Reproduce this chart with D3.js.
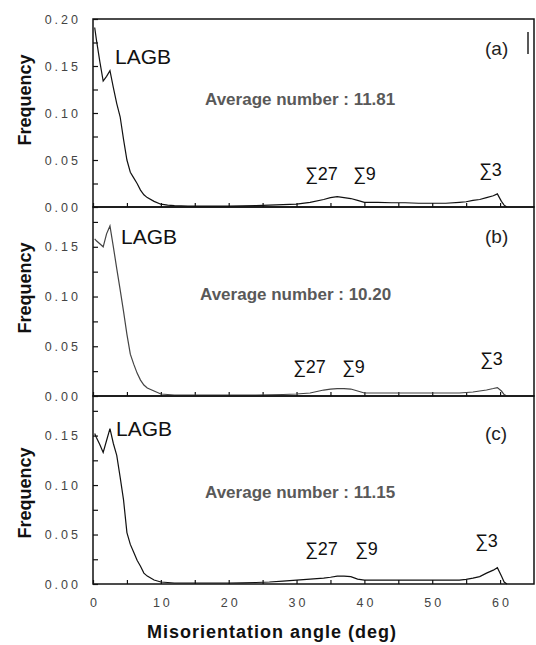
<!DOCTYPE html>
<html><head><meta charset="utf-8">
<script src="https://cdn.jsdelivr.net/npm/d3@7"></script>
<style>body{margin:0;background:#fff}svg{display:block}</style>
</head><body><svg id="c" width="536" height="645"></svg>
<script>
const angles = [0.25,0.5,1,1.5,2,2.5,3,3.5,4,4.5,5,5.5,6,6.5,7,7.5,8,9,10,11,12,14,16,18,20,22,24,26,28,30,32,34,35,36,37,38,39,40,42,44,46,48,50,52,54,55,56,57,58,59,59.6,60.2,60.6,61];
const freqA = [0.191,0.178,0.155,0.134,0.139,0.145,0.127,0.110,0.096,0.072,0.050,0.037,0.031,0.025,0.018,0.013,0.010,0.006,0.003,0.002,0.0015,0.001,0.001,0.001,0.001,0.0012,0.0015,0.002,0.0025,0.003,0.005,0.008,0.010,0.011,0.010,0.009,0.007,0.005,0.005,0.0045,0.0045,0.004,0.004,0.004,0.005,0.0056,0.007,0.008,0.010,0.012,0.014,0.006,0.002,0];
const freqB = [0.158,0.156,0.153,0.150,0.163,0.171,0.150,0.128,0.107,0.085,0.062,0.042,0.032,0.023,0.016,0.011,0.008,0.005,0.002,0.0015,0.001,0.0008,0.0008,0.0008,0.0008,0.0008,0.001,0.0012,0.0015,0.002,0.003,0.006,0.007,0.0075,0.0075,0.007,0.005,0.003,0.003,0.003,0.003,0.003,0.003,0.003,0.003,0.0035,0.004,0.005,0.006,0.0075,0.0085,0.005,0.0015,0];
const freqC = [0.152,0.148,0.141,0.133,0.145,0.157,0.142,0.130,0.108,0.085,0.052,0.040,0.032,0.024,0.018,0.011,0.008,0.004,0.002,0.0015,0.001,0.001,0.001,0.001,0.001,0.0012,0.0015,0.002,0.003,0.004,0.005,0.006,0.0068,0.008,0.008,0.0075,0.005,0.004,0.004,0.004,0.004,0.004,0.004,0.004,0.004,0.0047,0.006,0.0075,0.011,0.014,0.0165,0.008,0.002,0];
const panelLabels = ["(a)","(b)","(c)"];
const averageNumbers = ["11.81","10.20","11.15"];
const yMaxima = [0.20,0.19,0.19];
const yLabelTicks = [0,0.05,0.10,0.15,0.20];
const xLabelTicks = [0,10,20,30,40,50,60];
const sigmaLabels = ["\u221127","\u22119","\u22113"];
const series = [freqA, freqB, freqC];

const FONT = "Liberation Sans, Arial, sans-serif";
const svg = d3.select("#c");
const left = 93, right = 534;
const tops = [19,207,396], bottoms = [207,396,584];
const x = d3.scaleLinear().domain([0,65]).range([left,right]);

const lagbPos = [[115,64],[121,243.5],[116,436]];
const avgPos = [[205,105],[200,300],[205,498]];
const tagPos = [[485,55],[485,243],[485,440]];
const sigPos = [
  [[305,180],[353,180],[479,176]],
  [[293,373],[342,373],[480,365]],
  [[305,555],[355,555],[475,547]]
];
const freqLabelY = [100,288,493];
const lineColors = ["#111","#444","#111"];

for (let p=0;p<3;p++){
  const y = d3.scaleLinear().domain([0,yMaxima[p]]).range([bottoms[p],tops[p]]);
  const g = svg.append("g");
  g.append("rect").attr("x",left).attr("y",tops[p]).attr("width",right-left).attr("height",bottoms[p]-tops[p])
    .attr("fill","none").attr("stroke","#111").attr("stroke-width",1.5);
  const yt = d3.range(0, yMaxima[p]+1e-9, 0.025);
  const ya = d3.axisLeft(y).tickValues(yt).tickSize(-5).tickPadding(12)
    .tickFormat(d => yLabelTicks.some(v=>Math.abs(v-d)<1e-9) ? d3.format(".2f")(d) : "");
  const yg = g.append("g").attr("transform",`translate(${left},0)`).call(ya);
  yg.select(".domain").remove();
  yg.selectAll("line").attr("stroke","#111").attr("stroke-width",1.2);
  yg.selectAll("text").attr("font-family",FONT).attr("font-size",12.5)
    .attr("letter-spacing","3px").attr("fill","#444");
  const xa = d3.axisBottom(x).tickValues(d3.range(0,65,5)).tickSize(-4)
    .tickFormat(d => (p===2 && xLabelTicks.includes(d)) ? d : "").tickPadding(14);
  const xg = g.append("g").attr("transform",`translate(0,${bottoms[p]})`).call(xa);
  xg.select(".domain").remove();
  xg.selectAll("line").attr("stroke","#111").attr("stroke-width",1.2);
  xg.selectAll("text").attr("font-family",FONT).attr("font-size",12.5)
    .attr("letter-spacing","3px").attr("fill","#444").attr("dx","1.5");
  const line = d3.line().x((d,i)=>x(angles[i])).y(d=>y(d));
  g.append("path").datum(series[p]).attr("d",line).attr("fill","none")
    .attr("stroke",lineColors[p]).attr("stroke-width",1.2);
  g.append("text").attr("x",lagbPos[p][0]).attr("y",lagbPos[p][1]).text("LAGB")
    .attr("font-family",FONT).attr("font-size",21).attr("fill","#111");
  g.append("text").attr("x",avgPos[p][0]).attr("y",avgPos[p][1]).text("Average number : "+averageNumbers[p])
    .attr("font-family",FONT).attr("font-size",17).attr("font-weight","bold").attr("fill","#595959");
  g.append("text").attr("x",tagPos[p][0]).attr("y",tagPos[p][1]).text(panelLabels[p])
    .attr("font-family",FONT).attr("font-size",19).attr("fill","#222");
  sigmaLabels.forEach((s,i)=>{
    g.append("text").attr("x",sigPos[p][i][0]).attr("y",sigPos[p][i][1]).text(s)
      .attr("font-family",FONT).attr("font-size",18).attr("fill","#111");
  });
  g.append("text").attr("transform",`translate(31,${freqLabelY[p]}) rotate(-90)`).attr("text-anchor","middle")
    .text("Frequency").attr("font-family",FONT).attr("font-size",18)
    .attr("font-weight","bold").attr("fill","#111");
}
svg.append("line").attr("x1",528).attr("x2",528).attr("y1",32).attr("y2",54).attr("stroke","#222").attr("stroke-width",1.5);
svg.append("text").attr("x",147).attr("y",638).text("Misorientation angle (deg)")
  .attr("font-family",FONT).attr("font-size",18).attr("letter-spacing","1px").attr("font-weight","bold").attr("fill","#111");
</script></body></html>
